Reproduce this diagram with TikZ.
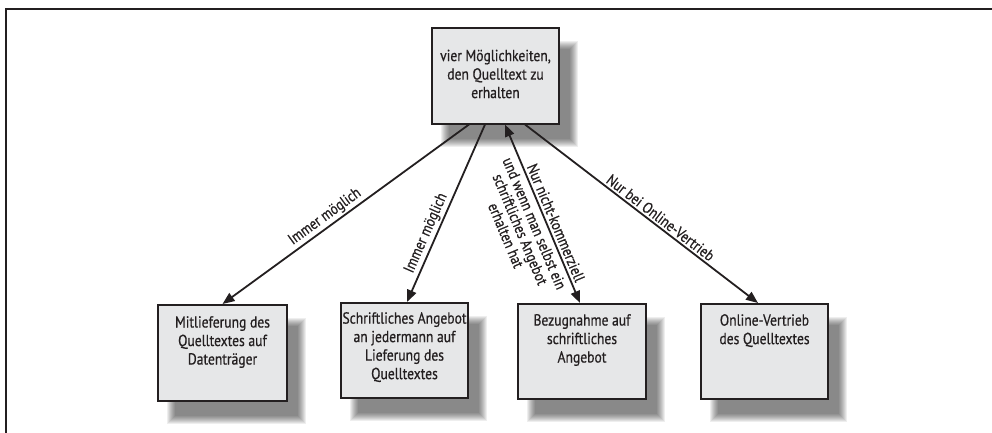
\documentclass[tikz,border=0pt]{standalone}
\usepackage{fontspec}
\setmainfont[FakeStretch=0.85,FakeBold=0.6]{PT Sans}
\usetikzlibrary{arrows.meta,calc,backgrounds}
\definecolor{boxfill}{HTML}{E6E7E8}
\definecolor{ink}{HTML}{231F20}
\tikzset{
  x=1pt,y=-1pt,
  box/.style={draw=ink,line width=2pt,fill=boxfill,minimum width=127pt,minimum height=95pt,inner sep=0pt},
  boxtext/.style={anchor=north,align=center,font=\fontsize{16}{18.5}\selectfont,inner sep=0pt,text=ink},
  arr/.style={draw=ink,line width=1.8pt,-{Triangle[length=12pt,width=9.5pt]}},
  darr/.style={draw=ink,line width=1.8pt,{Triangle[length=12pt,width=9.5pt]}-{Triangle[length=12pt,width=9.5pt]}},
  lab/.style={font=\fontsize{15.5}{15.5}\selectfont,text=ink,sloped,inner sep=2pt,align=center},
  frame/.style={draw=ink,line width=1.5pt}
}
\begin{document}
\begin{tikzpicture}
\useasboundingbox (0,0) rectangle (992,433);
\draw[frame] (6,433) -- (6,9) -- (992,9);
% boxes
\node[box] (top) at (495.5,76) {};
\node[box,minimum height=96pt,minimum width=129pt] (b1) at (222.5,353) {};
\node[box] (b2) at (404.5,350.5) {};
\node[box,minimum width=128pt] (b3) at (582,351.5) {};
\node[box] (b4) at (764.5,351.5) {};
% texts
\node[boxtext,anchor=center] (ttop) at ([yshift=2pt]top.center) {vier Möglichkeiten,\\den Quelltext zu\\erhalten};
\node[boxtext] (t1) at ([yshift=-12pt]b1.north) {Mitlieferung des\\Quelltextes auf\\Datenträger};
\node[boxtext] (t2) at ([yshift=-10pt]b2.north) {Schriftliches Angebot\\an jedermann auf\\Lieferung des\\Quelltextes};
\node[boxtext] (t3) at ([yshift=-11pt]b3.north) {Bezugnahme auf\\schriftliches\\Angebot};
\node[boxtext] (t4) at ([yshift=-11pt]b4.north) {Online-Vertrieb\\des Quelltextes};
% shadows
\begin{scope}[on background layer]
\foreach \n in {top,b1,b2,b3,b4}{
  \foreach \k in {0,...,8}{
    \fill[black,opacity=0.065] ($(\n.north west)+(10+\k,14+\k)$) rectangle ($(\n.south east)+(18-\k,22-\k)$);
  }
}
\end{scope}
% connectors
\draw[arr] ([xshift=-26.5pt]top.south) -- (b1.north)
  node[lab,pos=0.56,above] (l1) {Immer möglich};
\draw[arr] ([xshift=-10.5pt]top.south) -- ([xshift=2.5pt]b2.north)
  node[lab,pos=0.635,above] (l2) {Immer möglich};
\draw[darr] ([xshift=9.5pt]top.south) -- ([xshift=-2pt]b3.north)
  node[lab,pos=0.57,above,inner sep=2.5pt] (l3a) {Nur nicht-kommerziell}
  node[lab,pos=0.53,below,inner sep=4.5pt] (l3b) {und wenn man selbst ein\\schriftliches Angebot\\erhalten hat};
\draw[arr] ([xshift=29.5pt]top.south) -- ([xshift=-6.5pt]b4.north)
  node[lab,pos=0.56,above] (l4) {Nur bei Online-Vertrieb};
\end{tikzpicture}
\end{document}
